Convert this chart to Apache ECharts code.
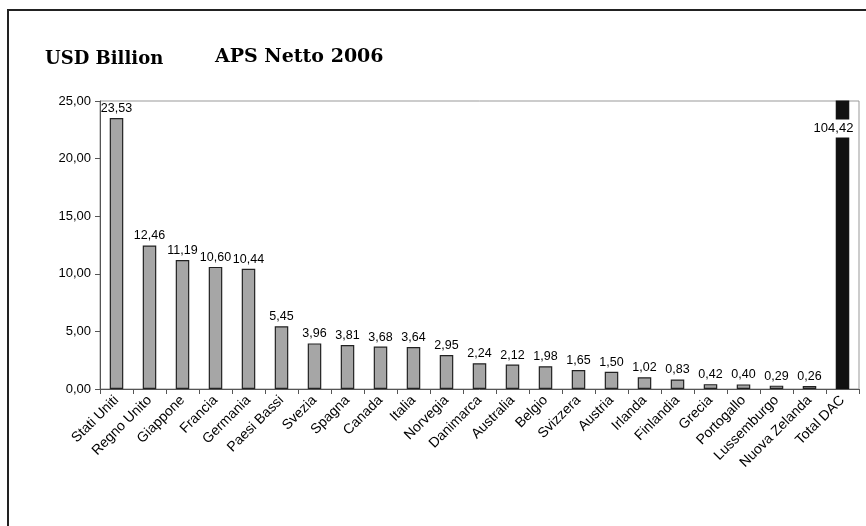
<!DOCTYPE html>
<html>
<head>
<meta charset="utf-8">
<title>APS Netto 2006</title>
<script src="https://cdn.jsdelivr.net/npm/echarts@6/dist/echarts.min.js"></script>
<style>
  html, body { margin: 0; padding: 0; background: #fff; }
  #chart { width: 866px; height: 526px; }
</style>
</head>
<body>
<div id="chart"></div>
<script>
// dati (miliardi USD)
var countries = ['Stati Uniti', 'Regno Unito', 'Giappone', 'Francia', 'Germania', 'Paesi Bassi',
  'Svezia', 'Spagna', 'Canada', 'Italia', 'Norvegia', 'Danimarca', 'Australia', 'Belgio',
  'Svizzera', 'Austria', 'Irlanda', 'Finlandia', 'Grecia', 'Portogallo', 'Lussemburgo',
  'Nuova Zelanda', 'Total DAC']
var apsValues = [23.53, 12.46, 11.19, 10.60, 10.44, 5.45, 3.96, 3.81, 3.68, 3.64, 2.95, 2.24,
  2.12, 1.98, 1.65, 1.50, 1.02, 0.83, 0.42, 0.40, 0.29, 0.26, 104.42]
var yTicks = [0, 5, 10, 15, 20, 25]

function comma(v) {
  return Number(v).toFixed(2).replace('.', ',')
}

var chart = echarts.init(document.getElementById('chart'))

var barData = apsValues.map(function (v, i) {
  if (countries[i] === 'Total DAC') {
    return {
      value: v,
      itemStyle: { color: '#111', borderColor: '#111' },
      label: {
        position: 'insideTop',
        offset: [-9, 16],
        fontSize: 13,
        backgroundColor: '#fff',
        padding: [3, 1, 2, 1]
      }
    }
  }
  return v
})

chart.setOption({
  animation: false,
  textStyle: { fontFamily: 'Liberation Sans, Arial, sans-serif' },
  title: [{
    text: 'USD Billion',
    left: 40,
    top: 45,
    textStyle: { fontFamily: 'DejaVu Serif, serif', fontWeight: 'bold', fontSize: 18, color: '#000' }
  }, {
    text: 'APS Netto 2006',
    left: 210,
    top: 43,
    textStyle: { fontFamily: 'DejaVu Serif, serif', fontWeight: 'bold', fontSize: 19, color: '#000' }
  }],
  graphic: [{
    type: 'rect',
    shape: { x: 8, y: 10, width: 880, height: 540 },
    style: { fill: 'none', stroke: '#222', lineWidth: 2 },
    silent: true
  }],
  grid: {
    left: 100,
    right: 7,
    top: 101,
    bottom: 137,
    show: true,
    borderColor: '#999',
    borderWidth: 1,
    backgroundColor: 'transparent'
  },
  xAxis: {
    type: 'category',
    data: countries,
    boundaryGap: true,
    axisLine: { lineStyle: { color: '#555', width: 1 } },
    axisTick: { show: true, inside: false, length: 5, lineStyle: { color: '#555' } },
    axisLabel: {
      interval: 0,
      rotate: 45,
      margin: 9,
      fontSize: 14,
      color: '#000',
      fontFamily: 'Liberation Sans, Arial, sans-serif'
    },
    splitLine: { show: false }
  },
  yAxis: {
    type: 'value',
    min: yTicks[0],
    max: yTicks[yTicks.length - 1],
    interval: yTicks[1] - yTicks[0],
    axisLine: { show: true, lineStyle: { color: '#555', width: 1 } },
    axisTick: { show: true, inside: false, length: 5, lineStyle: { color: '#555' } },
    axisLabel: {
      fontSize: 13,
      color: '#000',
      margin: 9,
      formatter: function (v) { return comma(v) }
    },
    splitLine: { show: false }
  },
  series: [{
    type: 'bar',
    data: barData,
    barWidth: '41%',
    clip: true,
    itemStyle: { color: '#a6a6a6', borderColor: '#222', borderWidth: 1.2 },
    label: {
      show: true,
      position: 'top',
      distance: 3,
      fontSize: 12.5,
      color: '#000',
      formatter: function (p) { return comma(p.value) }
    }
  }]
})
</script>
</body>
</html>
